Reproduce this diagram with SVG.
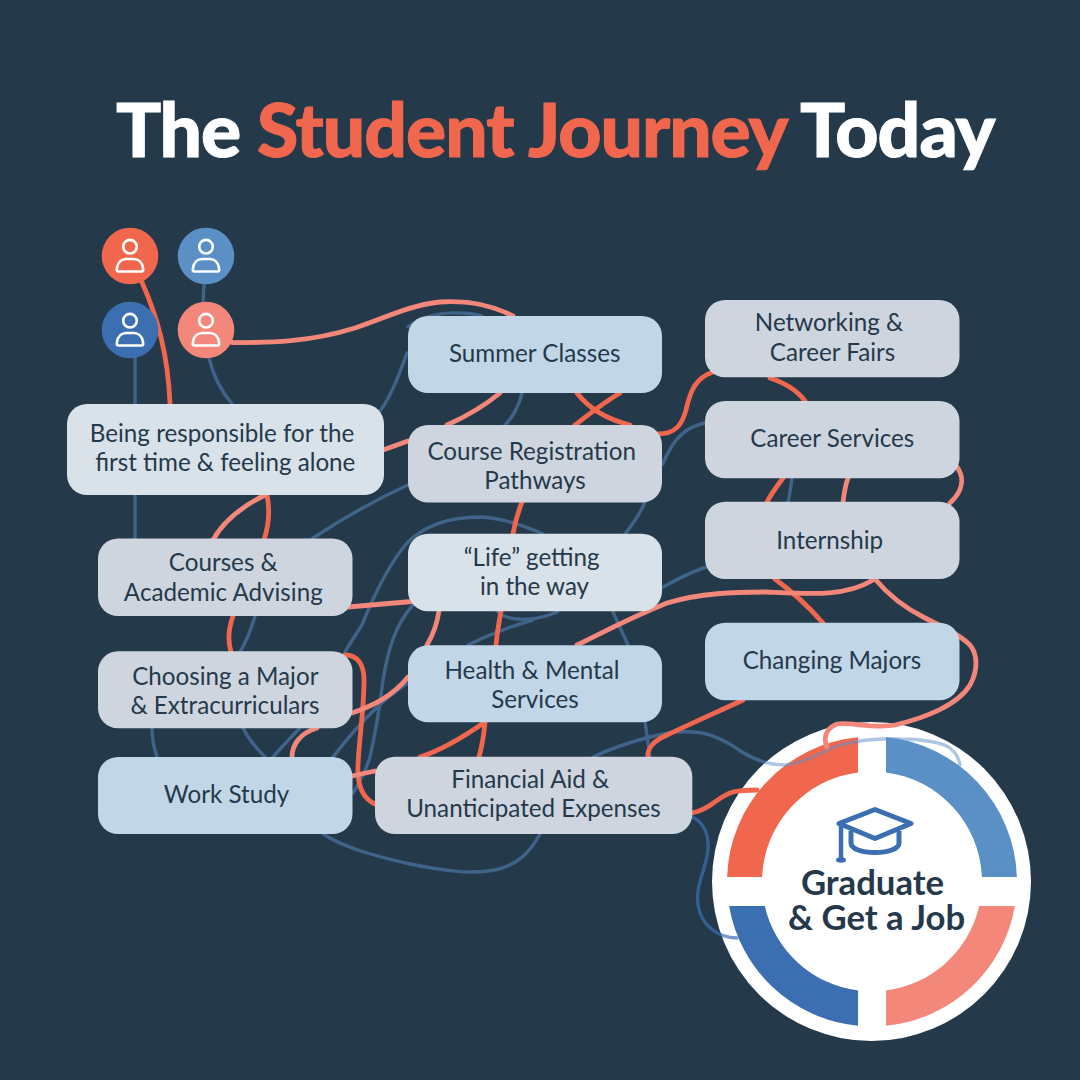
<svg xmlns="http://www.w3.org/2000/svg" width="1080" height="1080" viewBox="0 0 1080 1080">
<style>
text{font-family:Lato,"Liberation Sans",sans-serif}
.n text{font-size:24.200px;fill:#25394b;text-anchor:middle;transform:translateY(.8px)}
.n rect{rx:20px;ry:20px}
.a{fill:#c1d6e6}.b{fill:#ced5df}.c{fill:#d9e2e8}
.l{fill:none;stroke-linecap:round;stroke-linejoin:round}
.red{stroke:#f1674d;stroke-width:4.800}
.sal{stroke:#f2877a;stroke-width:4.800}
.blu{stroke:#5b90c7;stroke-width:3.400;opacity:.5}
.dbl{stroke:#3b6fb2;stroke-width:3.400;opacity:.7}
.u circle.h,.u path{fill:none;stroke:#fff;stroke-width:2.600}
.t{font-size:75px;font-weight:900;letter-spacing:-1.050px}
.g{font-size:34.700px;font-weight:700;fill:#25394b;text-anchor:middle}
</style>
<rect width="1080" height="1080" fill="#24394a"/>
<text class="t" x="116" y="156.500" fill="#fff" stroke="#fff" stroke-width="1">The <tspan fill="#f1674d" stroke="#f1674d">Student Journey</tspan> Today</text>
<g id="goal-ring">
<circle cx="871.500" cy="881.500" r="159.500" fill="#fff"/>
<path fill="#f1674d" d="M858 737.200A145 145 0 0 0 727.100 877H762.100A110 110 0 0 1 858 772.400Z"/>
<path fill="#5b90c7" d="M886 737.200A145 145 0 0 1 1016.900 877H981.900A110 110 0 0 0 886 772.400Z"/>
<path fill="#3b6fb2" d="M858 1025.800A145 145 0 0 1 729.100 906H764.800A110 110 0 0 0 858 990.600Z"/>
<path fill="#f2877a" d="M886 1025.800A145 145 0 0 0 1014.900 906H979.200A110 110 0 0 1 886 990.600Z"/>
</g>
<g id="connectors">
<path class="l blu" d="M204 284L203 304M135 358V404M135 495V540M209 358C213 375 222 392 232 404M255 616C251 630 246 642 240 652M380 411C392 395 400 372 407 353M408 327C420 317 440 312 458 313C468 313 475 314 482 316M522 393C519 405 514 416 505 425M408 485C375 500 345 517 313 538M705 423C690 426 680 433 672 446C666 456 664 460 663 464M645 502C640 514 633 524 625 534M345 652C352 640 356 634 362 625C372 600 388 565 407 543C428 522 455 517 480 517C502 518 525 526 543 534M413 605C395 625 388 650 383 680C380 705 376 730 370 757C366 770 360 782 353 793M408 683C385 697 360 722 333 757M152 728C152 738 154 748 157 757M243 728C249 740 257 749 265 757M300 728C290 738 281 748 273 757M323 834C345 848 375 856 410 864C440 870 470 875 495 870C518 865 530 852 540 834M497 611C503 618 515 620 530 619C540 618 550 615 557 612M468 645C490 634 512 626 533 620M663 587C678 579 692 571 707 567M613 612C618 623 623 634 628 645M645 722C647 734 648 745 650 757M792 478C791 486 790 494 788 502M593 757C612 748 630 742 650 737C665 733 680 731 692 732C708 732 725 740 742 752C755 760 768 765 785 765C805 763 820 752 840 745C860 740 880 738 900 739C920 739 942 742 950 748C956 753 959 758 960 765"/>
<path class="l dbl" d="M692 817C703 822 709 833 708 850C706 870 695 885 698 905C701 925 718 938 737 938"/>
<path class="l red" d="M141 280C158 318 168 355 170 404M267 495C270 510 269 525 264 540M233 616C228 630 228 642 231 652M345 655C358 655 364 665 364 680C364 710 359 740 358 765C357 785 362 798 375 804M577 393C590 410 610 420 630 425M658 434C675 434 682 425 686 410C690 392 695 378 713 372M770 378C785 383 797 390 805 401M783 478C777 486 771 494 767 502M775 579C790 590 808 606 823 623M743 700C715 713 690 724 665 736C652 742 647 750 648 757M692 813C710 810 718 796 733 792C742 790 750 790 757 790M620 393C603 403 588 415 575 425M522 502C518 512 515 522 513 534M501 611C499 622 497 634 496 645M485 722C484 734 482 746 479 757M485 722C462 738 442 750 420 757"/>
<path class="l sal" d="M232 342.500C270 343 310 342 355 328C385 318 410 305 440 302C470 300 492 305 513 316M500 393C483 407 465 417 447 425M408 441L383 450M265 495C245 505 225 518 213 540M348 607L412 601.500M439 611C437 624 433 635 427 645M408 677C392 697 372 706 352 713M317 728C300 733 292 745 292 757M352 776L375 771M577 645C600 634 625 620 667 603C700 593 735 592 767 592C810 594 845 597 873 580M875 579C890 597 905 608 925 618C945 628 960 635 970 645C978 655 978 670 970 685C958 705 925 718 895 725C875 729 850 722 837 724C826 728 823 738 827 747M957 467C964 477 964 490 950 503M848 478C845 486 844 494 843 502"/>
</g>
<g id="user-1" class="u"><circle cx="130" cy="256" r="28.300" fill="#f1674d"/><circle class="h" cx="130" cy="246.700" r="6.800"/><path d="M118 271.500H142C143 271.500 143.500 271 143 268C142 262 138 259 134 259H126C122 259 118 262 117 268C116.500 271 117 271.500 118 271.500Z"/></g>
<g id="user-2" class="u"><circle cx="206" cy="256" r="28.300" fill="#5b90c7"/><circle class="h" cx="206" cy="246.700" r="6.800"/><path d="M194 271.500H218C219 271.500 219.500 271 219 268C218 262 214 259 210 259H202C198 259 194 262 193 268C192.500 271 193 271.500 194 271.500Z"/></g>
<g id="user-3" class="u"><circle cx="130" cy="330" r="28.300" fill="#3b6fb2"/><circle class="h" cx="130" cy="320.700" r="6.800"/><path d="M118 345.500H142C143 345.500 143.500 345 143 342C142 336 138 333 134 333H126C122 333 118 336 117 342C116.500 345 117 345.500 118 345.500Z"/></g>
<g id="user-4" class="u"><circle cx="206" cy="330" r="28.300" fill="#f2877a"/><circle class="h" cx="206" cy="320.700" r="6.800"/><path d="M194 345.500H218C219 345.500 219.500 345 219 342C218 336 214 333 210 333H202C198 333 194 336 193 342C192.500 345 193 345.500 194 345.500Z"/></g>
<g id="being" class="n"><rect class="c" x="67" y="404" width="317" height="91"/><text x="222" y="441">Being responsible for the</text><text x="225.300" y="470">first time &amp; feeling alone</text></g>
<g id="courses" class="n"><rect class="b" x="98" y="538.500" width="254.500" height="77.500"/><text x="223.300" y="570.700">Courses &amp;</text><text x="223.300" y="600">Academic Advising</text></g>
<g id="choosing" class="n"><rect class="b" x="98" y="651.300" width="254.500" height="77"/><text x="225.300" y="684">Choosing a Major</text><text x="225" y="713">&amp; Extracurriculars</text></g>
<g id="work-study" class="n"><rect class="a" x="98" y="757" width="254.500" height="77"/><text x="226.500" y="802">Work Study</text></g>
<g id="summer" class="n"><rect class="a" x="408" y="316" width="254" height="77"/><text x="534.700" y="361">Summer Classes</text></g>
<g id="registration" class="n"><rect class="b" x="408" y="425" width="254" height="77.500"/><text x="531.700" y="459.300">Course Registration</text><text x="535" y="488">Pathways</text></g>
<g id="life" class="n"><rect class="c" x="408" y="533.700" width="254" height="77.500"/><text x="531.700" y="565">“Life” getting</text><text x="534.500" y="594">in the way</text></g>
<g id="health" class="n"><rect class="a" x="408" y="645.300" width="254" height="77"/><text x="532" y="678">Health &amp; Mental</text><text x="535" y="707">Services</text></g>
<g id="financial" class="n"><rect class="b" x="375" y="756.700" width="317.300" height="77.300"/><text x="530.300" y="787">Financial Aid &amp;</text><text x="533.500" y="816.600">Unanticipated Expenses</text></g>
<g id="networking" class="n"><rect class="b" x="705" y="300" width="254.500" height="77.300"/><text x="829" y="330.700">Networking &amp;</text><text x="832.500" y="360">Career Fairs</text></g>
<g id="career" class="n"><rect class="b" x="705" y="401" width="254.500" height="77.300"/><text x="832.300" y="446">Career Services</text></g>
<g id="internship" class="n"><rect class="b" x="705" y="501.700" width="254.500" height="77.300"/><text x="829.700" y="548">Internship</text></g>
<g id="changing" class="n"><rect class="a" x="705" y="622.700" width="254.500" height="77.600"/><text x="832" y="668">Changing Majors</text></g>
<g id="goal">
<path d="M875 809.500L911 823.500L875 838.500L839 823.500Z" fill="none" stroke="#3b6fb2" stroke-width="5" stroke-linejoin="round"/>
<path d="M851 831V843C851 849 862 852.500 875 852.500C888 852.500 899 849 899 843V831" fill="none" stroke="#3b6fb2" stroke-width="5"/>
<path d="M841 824V859" fill="none" stroke="#3b6fb2" stroke-width="4.500"/><ellipse cx="841" cy="860" rx="5" ry="2.800" fill="#3b6fb2"/>
<text class="g" x="872.500" y="894.500">Graduate</text><text class="g" x="876.500" y="929.500">&amp; Get a Job</text>
</g>
</svg>
